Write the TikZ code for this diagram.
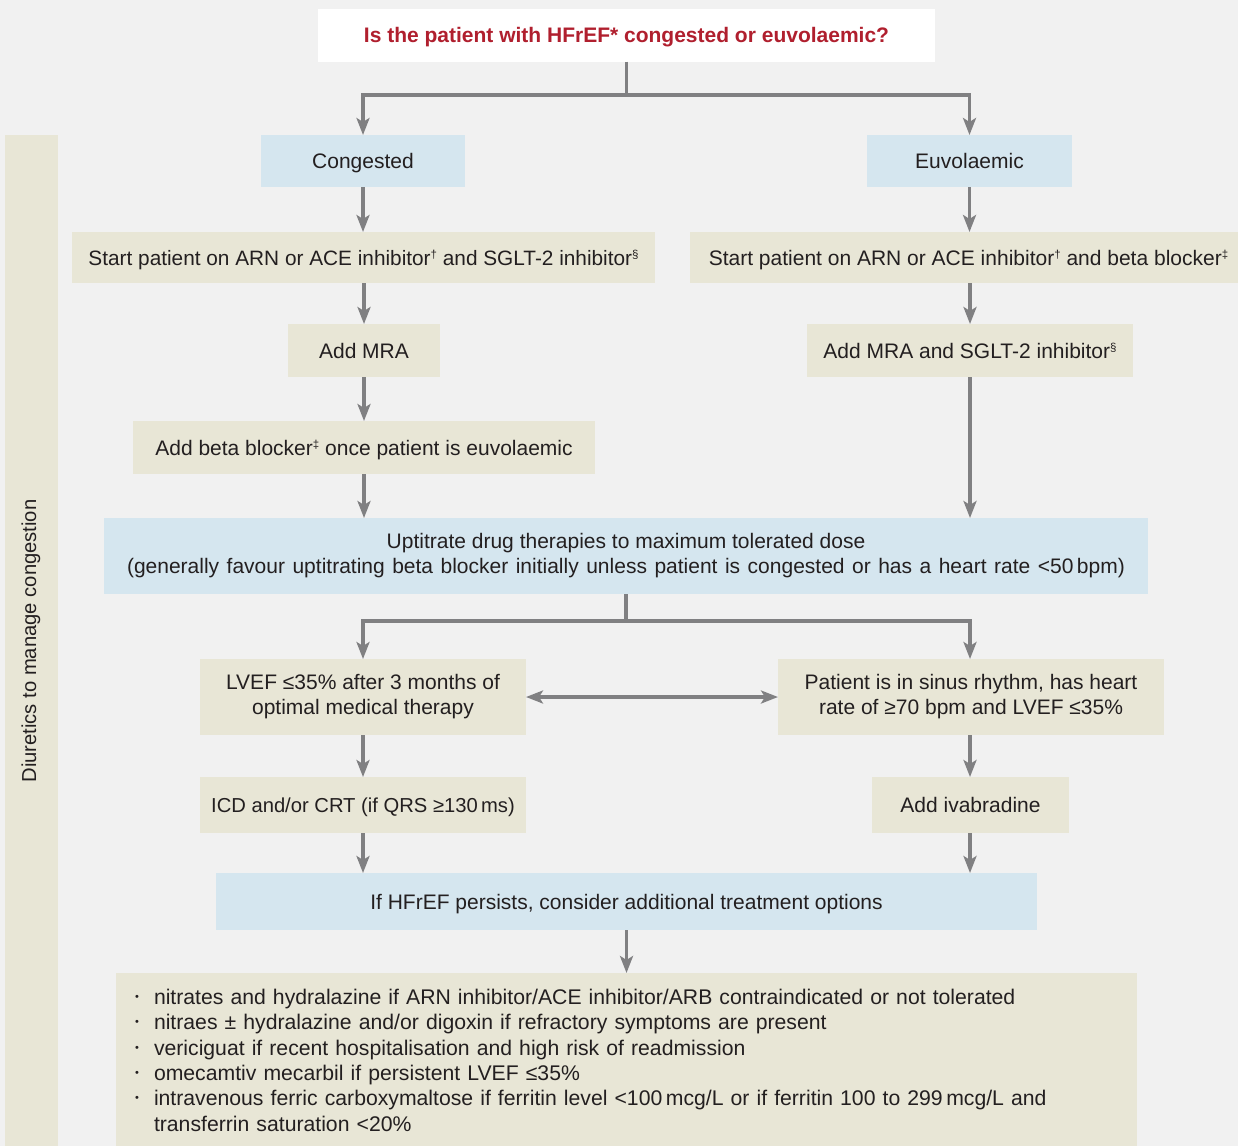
\documentclass[tikz,border=0pt]{standalone}
\usepackage{fontspec}
\setmainfont{Liberation Sans}
\usetikzlibrary{arrows.meta,calc}
\definecolor{bgc}{HTML}{F1F1F1}
\definecolor{beige}{HTML}{E8E6D6}
\definecolor{paleblue}{HTML}{D5E6EF}
\definecolor{arrgrey}{HTML}{808082}
\definecolor{titlered}{HTML}{B01F2E}
\definecolor{txt}{HTML}{231F20}
\newcommand{\lbul}{\makebox[24pt][l]{\hspace*{5pt}\raisebox{4pt}{\fontsize{11}{11}\selectfont •}}}
\newcommand{\mysup}[1]{\raisebox{7pt}{\fontsize{11.5}{12}\selectfont #1}}
\begin{document}
\begin{tikzpicture}[x=1pt,y=-1pt,
  every node/.style={text=txt,font=\fontsize{21}{25}\selectfont,inner sep=0pt,outer sep=0pt},
  one/.style={text height=15pt,text depth=0pt},
  bbox/.style={fill=beige,minimum width=#1},
  lbox/.style={fill=paleblue,minimum width=#1},
  arr/.style={draw=arrgrey,line width=3.3pt,-{Stealth[width=13pt,length=17pt,inset=4pt]}},
  darr/.style={draw=arrgrey,line width=3.3pt,{Stealth[width=13pt,length=17pt,inset=4pt]}-{Stealth[width=13pt,length=17pt,inset=4pt]}},
  plain/.style={draw=arrgrey,line width=3.3pt}]
\useasboundingbox[fill=bgc] (0,0) rectangle (1238,1146);
% side bar
\fill[beige] (5,135) rectangle (58,1146);
\node[rotate=90,font=\fontsize{20.2}{24}\selectfont] (side) at (31,641) {Diuretics to manage congestion};
% nodes
\node[fill=white,minimum width=617,minimum height=53,one,text height=14pt,text=titlered,font=\bfseries\fontsize{21}{25}\selectfont] (q) at (626.5,35) {Is the patient with HFrEF* congested or euvolaemic?};
\node[lbox=204,minimum height=52,one] (cong) at (363,161) {Congested};
\node[lbox=205,minimum height=52,one] (euv) at (969.5,161) {Euvolaemic};
\node[bbox=583,minimum height=51,one,font=\fontsize{20.8}{25}\selectfont] (startL) at (363.5,257.5) {Start patient on ARN or ACE inhibitor\mysup{†} and SGLT-2 inhibitor\mysup{§}};
\node[bbox=548,minimum height=51,one] (startR) at (964,257.5) {\hspace*{9pt}Start patient on ARN or ACE inhibitor\mysup{†} and beta blocker\mysup{‡}};
\node[bbox=152,minimum height=53,one] (mraL) at (364,350.5) {Add MRA};
\node[bbox=326,minimum height=53,one] (mraR) at (970,350.5) {Add MRA and SGLT-2 inhibitor\mysup{§}};
\node[bbox=462,minimum height=53,one] (beta) at (364,447.5) {Add beta blocker\mysup{‡} once patient is euvolaemic};
\node[lbox=1044,minimum height=76,align=center] (up) at (626,556) {Uptitrate drug therapies to maximum tolerated dose\\{\spaceskip=7.5pt plus 1pt(generally favour uptitrating beta blocker initially unless patient is congested or has a heart rate <50\,bpm)}};
\node[bbox=326,minimum height=76,align=center] (lvef) at (363,697) {LVEF ≤35\% after 3 months of\\optimal medical therapy};
\node[bbox=386,minimum height=76,align=center] (sinus) at (971,697) {Patient is in sinus rhythm, has heart\\rate of ≥70 bpm and LVEF ≤35\%};
\node[bbox=326,minimum height=56,one,font=\fontsize{20.2}{25}\selectfont] (icd) at (363,805) {ICD and/or CRT (if QRS ≥130\,ms)};
\node[bbox=197,minimum height=56,one] (ivab) at (970.5,805) {Add ivabradine};
\node[lbox=821,minimum height=57,one] (pers) at (626.5,901.5) {If HFrEF persists, consider additional treatment options};
\node[bbox=1021,minimum height=173,anchor=north] (list) at (626.5,973) {};
\node[anchor=north west,text width=1000pt,align=left,font=\fontsize{21.2}{25.4}\selectfont] (listtext) at (130,989) {%
\lbul nitrates and hydralazine if ARN inhibitor/ACE inhibitor/ARB contraindicated or not tolerated\par
\lbul nitraes ± hydralazine and/or digoxin if refractory symptoms are present\par
\lbul vericiguat if recent hospitalisation and high risk of readmission\par
\lbul omecamtiv mecarbil if persistent LVEF ≤35\%\par
\lbul intravenous ferric carboxymaltose if ferritin level <100\,mcg/L or if ferritin 100 to 299\,mcg/L and\par
\hspace*{24pt}transferrin saturation <20\%};
% connectors
\coordinate (split1) at (626.5,95);
\coordinate (split2) at (626,621);
\draw[plain] (q.south) -- (split1);
\draw[arr] (split1) -| (cong.north);
\draw[arr] (split1) -| (euv.north);
\draw[arr] (cong.south) -- (cong.south |- startL.north);
\draw[arr] (euv.south) -- (euv.south |- startR.north);
\draw[arr] (mraL.north |- startL.south) -- (mraL.north);
\draw[arr] (mraR.north |- startR.south) -- (mraR.north);
\draw[arr] (mraL.south) -- (mraL.south |- beta.north);
\draw[arr] (mraL.south |- beta.south) -- (mraL.south |- up.north);
\draw[arr] (mraR.south) -- (mraR.south |- up.north);
\draw[plain] (up.south) -- (split2);
\draw[arr] (split2) -| (lvef.north);
\draw[arr] (split2) -| (mraR.south |- sinus.north);
\draw[darr] (lvef.east) -- (sinus.west);
\draw[arr] (lvef.south) -- (icd.north);
\draw[arr] (mraR.south |- sinus.south) -- (mraR.south |- ivab.north);
\draw[arr] (icd.south) -- (icd.south |- pers.north);
\draw[arr] (mraR.south |- ivab.south) -- (mraR.south |- pers.north);
\draw[arr] (pers.south) -- (list.north);
\end{tikzpicture}
\end{document}
